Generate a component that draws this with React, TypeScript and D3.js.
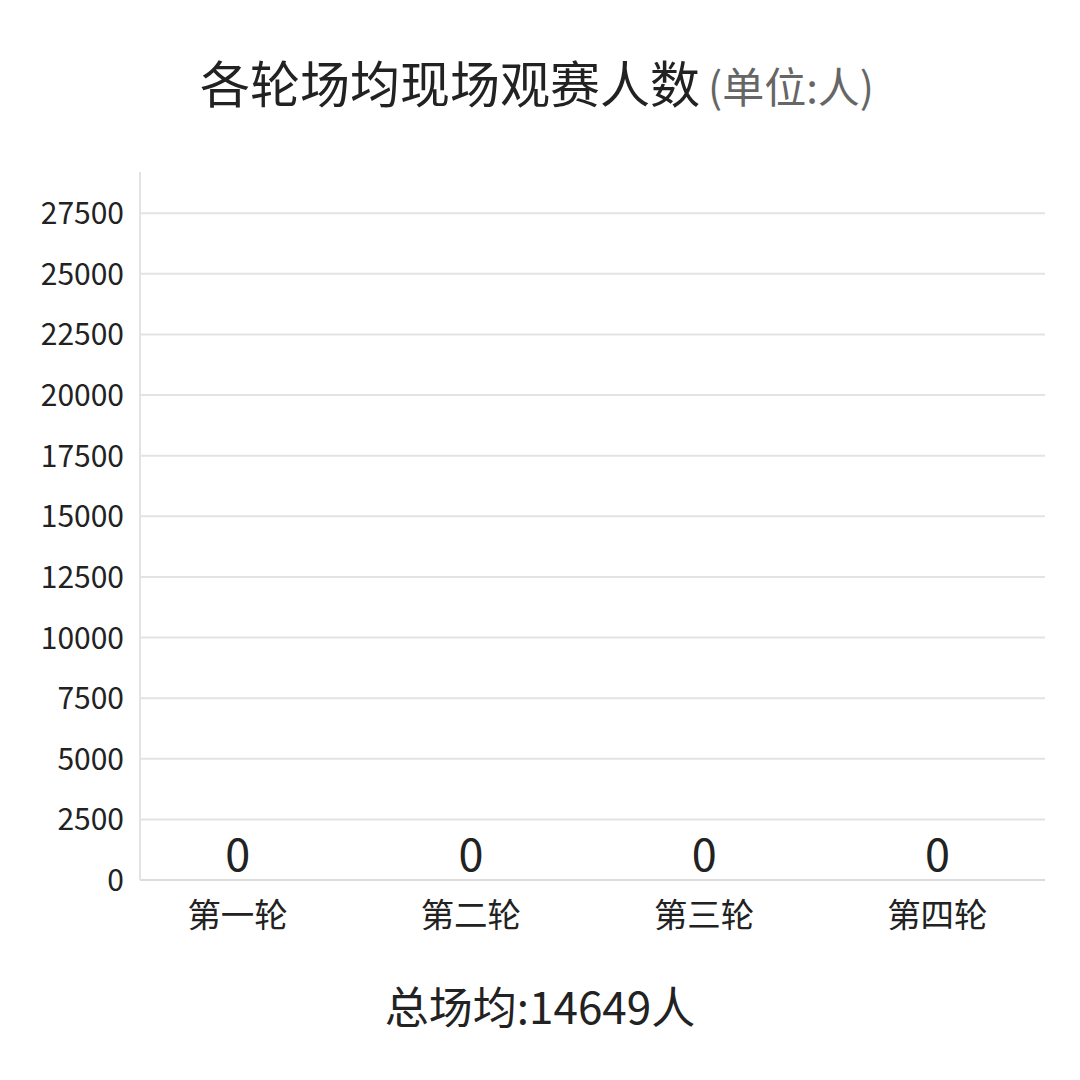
import * as d3 from 'd3';

const rounds = ['第一轮', '第二轮', '第三轮', '第四轮'];
const attendance = [0, 0, 0, 0];
const yTicks = [0, 2500, 5000, 7500, 10000, 12500, 15000, 17500, 20000, 22500, 25000, 27500];
const title = '各轮场均现场观赛人数';
const unit = '(单位:人)';
const totalAvg = 14649;

const W = 1080;
const H = 1080;
const FONT = '"Noto Sans CJK SC", "Noto Sans", sans-serif';

export default function App() {
    // plot area
    const left = 140;
    const right = 1045;
    const bottom = 880;
    const top = 172;

    const y = d3.scaleLinear().domain([0, 29200]).range([bottom, top]);
    const x = d3.scaleBand<string>().domain(rounds).range([121, 1054]);

    return (
        <div style={{ position: 'absolute', left: 0, top: 0 }}>
            <svg width={W} height={H} style={{ display: 'block', background: '#fff', fontFamily: FONT }}>
                <text x={200} y={103} textAnchor="start" fill="#222">
                    <tspan fontSize={50}>{title}</tspan>
                    <tspan fontSize={42} fill="#666" dx={8}>{unit}</tspan>
                </text>

                {/* grid lines */}
                {yTicks.filter(t => t > 0).map(t => (
                    <line key={t} x1={left} x2={right} y1={y(t)} y2={y(t)} stroke="#e3e3e3" strokeWidth={2} />
                ))}
                <line x1={left} x2={right} y1={bottom} y2={bottom} stroke="#dcdcdc" strokeWidth={2} />
                <line x1={left} x2={left} y1={top} y2={bottom} stroke="#e3e3e3" strokeWidth={2} />

                {/* y tick labels */}
                {yTicks.map(t => (
                    <text key={t} x={124} y={y(t) + 11} textAnchor="end" fontSize={30} fill="#222">
                        {t}
                    </text>
                ))}

                {/* bars (zero height) + value labels */}
                {rounds.map((r, i) => (
                    <g key={r}>
                        <rect
                            x={x(r)! + x.bandwidth() * 0.2}
                            width={x.bandwidth() * 0.6}
                            y={y(attendance[i])}
                            height={bottom - y(attendance[i])}
                            fill="#5b8ff9"
                        />
                        <text x={x(r)! + x.bandwidth() / 2} y={y(attendance[i]) - 9} textAnchor="middle" fontSize={45} fill="#222">
                            {attendance[i]}
                        </text>
                        <text x={x(r)! + x.bandwidth() / 2} y={927} textAnchor="middle" fontSize={33.5} fill="#222">
                            {r}
                        </text>
                    </g>
                ))}

                <text x={W / 2} y={1024} textAnchor="middle" fontSize={44} fill="#222">
                    {`总场均:${totalAvg}人`}
                </text>
            </svg>
        </div>
    );
}
